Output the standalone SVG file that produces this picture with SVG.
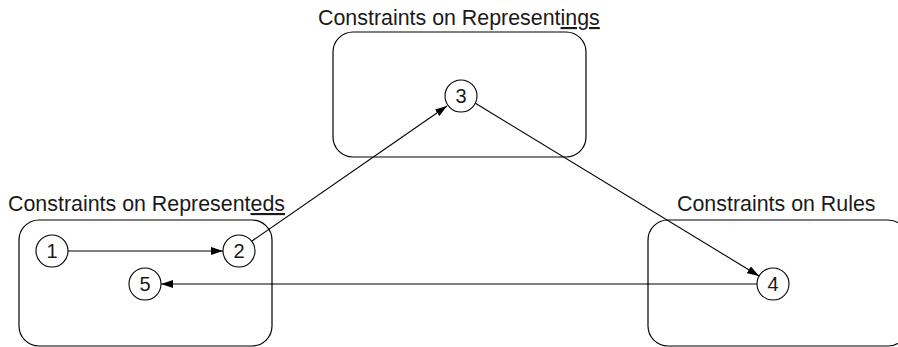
<svg xmlns="http://www.w3.org/2000/svg" width="898" height="347" viewBox="0 0 898 347">
<style>
.box{fill:none;stroke:#000;stroke-width:1.2}
.c{fill:#fff;stroke:#000;stroke-width:1.1}
.lbl{font-family:"Liberation Sans",Arial,sans-serif;font-size:21.4px;fill:#1a1a1a}
.num{font-family:"Liberation Sans",Arial,sans-serif;font-size:20px;fill:#1a1a1a;text-anchor:middle}
.u{text-decoration:underline}
.e{fill:none;stroke:#000;stroke-width:1.1;marker-end:url(#ah)}
</style>
<defs>
<marker id="ah" viewBox="0 0 12 8" refX="12" refY="4" markerWidth="12" markerHeight="8" markerUnits="userSpaceOnUse" orient="auto">
<path d="M0,0 L12,4 L0,8 Z" fill="#000"/>
</marker>
</defs>
<g id="group-representeds">
<rect class="box" x="19" y="220" width="253" height="126" rx="20"/>
<text class="lbl" x="8" y="211">Constraints on Represent<tspan class="u">eds</tspan></text>
</g>
<g id="group-representings">
<rect class="box" x="333" y="32" width="253" height="125" rx="20"/>
<text class="lbl" x="318" y="25">Constraints on Represent<tspan class="u">ings</tspan></text>
</g>
<g id="group-rules">
<rect class="box" x="648" y="220" width="260" height="126" rx="20"/>
<text class="lbl" x="677" y="211">Constraints on Rules</text>
</g>
<g id="connectors">
<line class="e" x1="68" y1="251" x2="223" y2="251"/>
<line class="e" x1="252" y1="241" x2="447" y2="106"/>
<line class="e" x1="475" y1="103" x2="759" y2="276"/>
<line class="e" x1="757" y1="284" x2="161" y2="284"/>
</g>
<g id="node-1"><circle class="c" cx="52" cy="251" r="16"/><text class="num" x="52" y="258">1</text></g>
<g id="node-2"><circle class="c" cx="239" cy="251" r="16"/><text class="num" x="239" y="258">2</text></g>
<g id="node-3"><circle class="c" cx="461" cy="96" r="16"/><text class="num" x="461" y="103">3</text></g>
<g id="node-4"><circle class="c" cx="773" cy="284" r="16"/><text class="num" x="773" y="291">4</text></g>
<g id="node-5"><circle class="c" cx="145" cy="284" r="16"/><text class="num" x="145" y="291">5</text></g>
</svg>
